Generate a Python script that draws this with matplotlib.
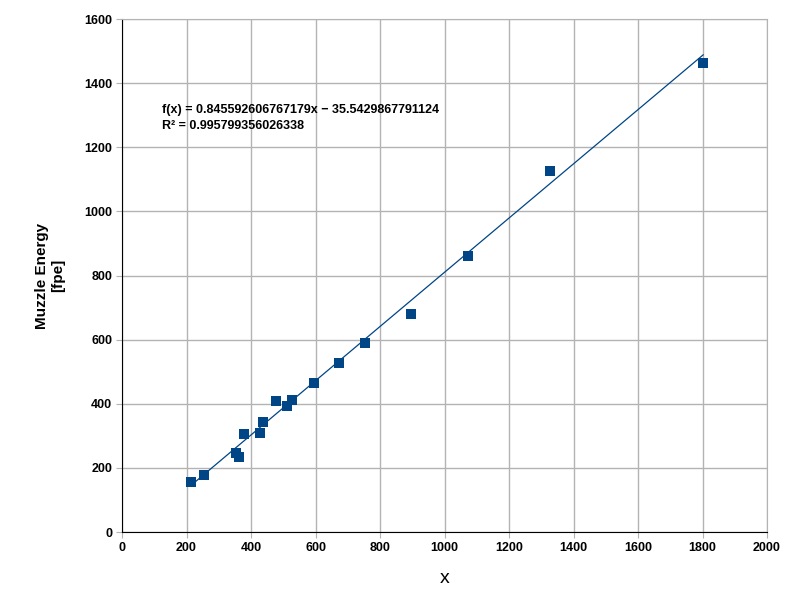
import numpy as np
import matplotlib.pyplot as plt

plt.rcParams['font.family'] = ['Liberation Sans', 'DejaVu Sans']

x_vals = [214, 254, 353, 362, 377, 427, 436, 478, 512, 527, 594, 673, 753, 896, 1073, 1327, 1802]
energy = [156, 178, 248, 234, 307, 309, 342, 408, 392, 411, 465, 527, 590, 681, 861, 1126, 1463]
slope = 0.845592606767179
intercept = -35.5429867791124
eq_text = 'f(x) = 0.845592606767179x \u2212 35.5429867791124\nR\u00b2 = 0.995799356026338'

fig = plt.figure(figsize=(8, 6), dpi=100)
ax = fig.add_axes([0.1525, 0.1133, 0.80625, 0.855])

blue = '#004586'
ax.scatter(x_vals, energy, marker='s', s=42, color=blue, zorder=3, linewidths=0)
xl = np.array([min(x_vals), max(x_vals)])
ax.plot(xl, slope * xl + intercept, color=blue, lw=0.9, zorder=2)

ax.set_xlim(0, 2000)
ax.set_ylim(0, 1600)
ax.set_xticks(np.arange(0, 2001, 200))
ax.set_yticks(np.arange(0, 1601, 200))
ax.grid(True, color='#b3b3b3', lw=1)
ax.set_axisbelow(True)
for s in ['top', 'right']:
    ax.spines[s].set_color('#b3b3b3')
for s in ['left', 'bottom']:
    ax.spines[s].set_color('black')
ax.tick_params(axis='both', labelsize=9, direction='out', length=4, color='#b3b3b3', pad=3)
for lab in ax.get_xticklabels() + ax.get_yticklabels():
    lab.set_fontweight('bold')

ax.set_xlabel('x', fontsize=14, labelpad=12)
ax.set_ylabel('Muzzle Energy\n[fpe]', fontsize=11, fontweight='bold', labelpad=14)

fig.text(162 / 800, 1 - 118 / 600, eq_text, fontsize=9, fontweight='bold', va='center', linespacing=1.35)

fig.savefig('out.png', dpi=100)
